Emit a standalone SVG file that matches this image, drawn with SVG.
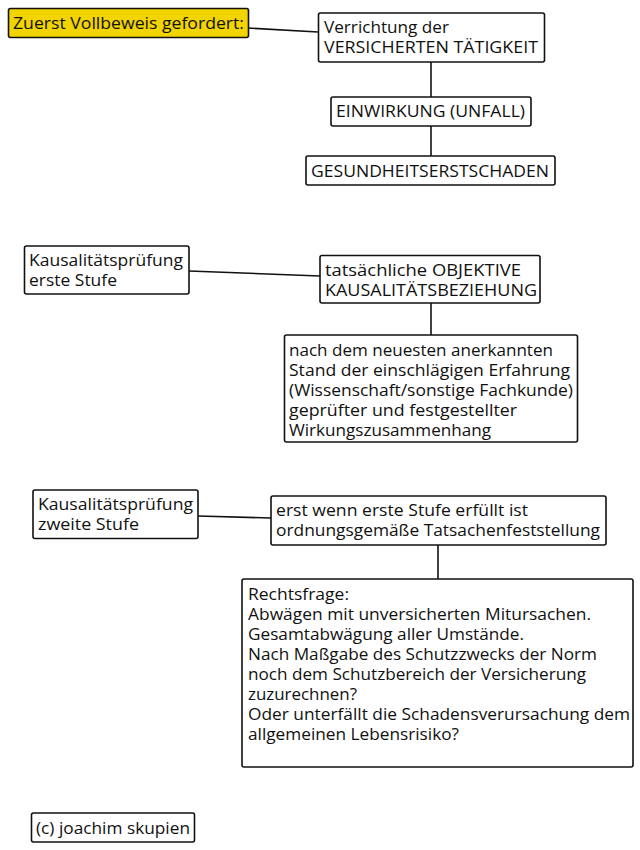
<svg xmlns="http://www.w3.org/2000/svg" width="640" height="850" viewBox="0 0 640 850">
<style>
.box{fill:#ffffff;stroke:#111111;stroke-width:1.6}
.hl{fill:#f2d400;stroke:#111111;stroke-width:1.6}
.t{font-family:"Open Sans","Noto Sans","DejaVu Sans",sans-serif;font-size:15.8px;fill:#111111}
.c{stroke:#111111;stroke-width:1.6;fill:none}
</style>
<rect width="640" height="850" fill="#ffffff"/>
<g id="connectors">
<line class="c" x1="248" y1="28" x2="318" y2="32"/>
<line class="c" x1="431" y1="62" x2="431" y2="97"/>
<line class="c" x1="431" y1="126" x2="431" y2="156"/>
<line class="c" x1="189" y1="271" x2="320" y2="276"/>
<line class="c" x1="431" y1="303" x2="431" y2="335"/>
<line class="c" x1="198" y1="516" x2="271" y2="518"/>
<line class="c" x1="438" y1="545" x2="438" y2="579"/>
</g>
<g id="n_vollbeweis">
<rect class="hl" x="8.5" y="8.5" width="240" height="29" rx="2"/>
<text class="t" x="13" y="29" textLength="231" lengthAdjust="spacingAndGlyphs">Zuerst Vollbeweis gefordert:</text>
</g>
<g id="n_verrichtung">
<rect class="box" x="318.5" y="13" width="226" height="49" rx="2"/>
<text class="t" x="324" y="33" textLength="125" lengthAdjust="spacingAndGlyphs">Verrichtung der</text>
<text class="t" x="324" y="53" textLength="214" lengthAdjust="spacingAndGlyphs">VERSICHERTEN TÄTIGKEIT</text>
</g>
<g id="n_einwirkung">
<rect class="box" x="331" y="97" width="200" height="29" rx="2"/>
<text class="t" x="336" y="117" textLength="189" lengthAdjust="spacingAndGlyphs">EINWIRKUNG (UNFALL)</text>
</g>
<g id="n_gesundheit">
<rect class="box" x="306" y="156" width="249" height="29" rx="2"/>
<text class="t" x="311" y="177" textLength="238" lengthAdjust="spacingAndGlyphs">GESUNDHEITSERSTSCHADEN</text>
</g>
<g id="n_kaus1">
<rect class="box" x="24.5" y="246" width="164.5" height="48" rx="2"/>
<text class="t" x="29" y="266" textLength="154" lengthAdjust="spacingAndGlyphs">Kausalitätsprüfung</text>
<text class="t" x="29" y="286" textLength="88" lengthAdjust="spacingAndGlyphs">erste Stufe</text>
</g>
<g id="n_objektiv">
<rect class="box" x="320" y="255.5" width="220" height="47.5" rx="2"/>
<text class="t" x="325" y="276" textLength="196" lengthAdjust="spacingAndGlyphs">tatsächliche OBJEKTIVE</text>
<text class="t" x="325" y="296" textLength="212" lengthAdjust="spacingAndGlyphs">KAUSALITÄTSBEZIEHUNG</text>
</g>
<g id="n_stand">
<rect class="box" x="284.5" y="335" width="293" height="107" rx="2"/>
<text class="t" x="289" y="356" textLength="264" lengthAdjust="spacingAndGlyphs">nach dem neuesten anerkannten</text>
<text class="t" x="289" y="376" textLength="281" lengthAdjust="spacingAndGlyphs">Stand der einschlägigen Erfahrung</text>
<text class="t" x="289" y="396" textLength="284" lengthAdjust="spacingAndGlyphs">(Wissenschaft/sonstige Fachkunde)</text>
<text class="t" x="289" y="416" textLength="228" lengthAdjust="spacingAndGlyphs">geprüfter und festgestellter</text>
<text class="t" x="289" y="436" textLength="202" lengthAdjust="spacingAndGlyphs">Wirkungszusammenhang</text>
</g>
<g id="n_kaus2">
<rect class="box" x="33" y="490" width="165" height="48.5" rx="2"/>
<text class="t" x="38" y="510" textLength="155" lengthAdjust="spacingAndGlyphs">Kausalitätsprüfung</text>
<text class="t" x="38" y="530" textLength="101" lengthAdjust="spacingAndGlyphs">zweite Stufe</text>
</g>
<g id="n_erstwenn">
<rect class="box" x="271" y="496" width="335" height="49" rx="2"/>
<text class="t" x="276" y="516" textLength="252" lengthAdjust="spacingAndGlyphs">erst wenn erste Stufe erfüllt ist</text>
<text class="t" x="276" y="536" textLength="324" lengthAdjust="spacingAndGlyphs">ordnungsgemäße Tatsachenfeststellung</text>
</g>
<g id="n_rechtsfrage">
<rect class="box" x="242" y="579" width="391" height="188" rx="2"/>
<text class="t" x="248" y="600" textLength="101" lengthAdjust="spacingAndGlyphs">Rechtsfrage:</text>
<text class="t" x="248" y="620" textLength="343" lengthAdjust="spacingAndGlyphs">Abwägen mit unversicherten Mitursachen.</text>
<text class="t" x="248" y="640" textLength="276" lengthAdjust="spacingAndGlyphs">Gesamtabwägung aller Umstände.</text>
<text class="t" x="248" y="660" textLength="349" lengthAdjust="spacingAndGlyphs">Nach Maßgabe des Schutzzwecks der Norm</text>
<text class="t" x="248" y="680" textLength="338" lengthAdjust="spacingAndGlyphs">noch dem Schutzbereich der Versicherung</text>
<text class="t" x="248" y="700" textLength="109" lengthAdjust="spacingAndGlyphs">zuzurechnen?</text>
<text class="t" x="248" y="720" textLength="382" lengthAdjust="spacingAndGlyphs">Oder unterfällt die Schadensverursachung dem</text>
<text class="t" x="248" y="740" textLength="211" lengthAdjust="spacingAndGlyphs">allgemeinen Lebensrisiko?</text>
</g>
<g id="n_copyright">
<rect class="box" x="31.5" y="813" width="163" height="29" rx="2"/>
<text class="t" x="36" y="834" textLength="154" lengthAdjust="spacingAndGlyphs">(c) joachim skupien</text>
</g>
</svg>
